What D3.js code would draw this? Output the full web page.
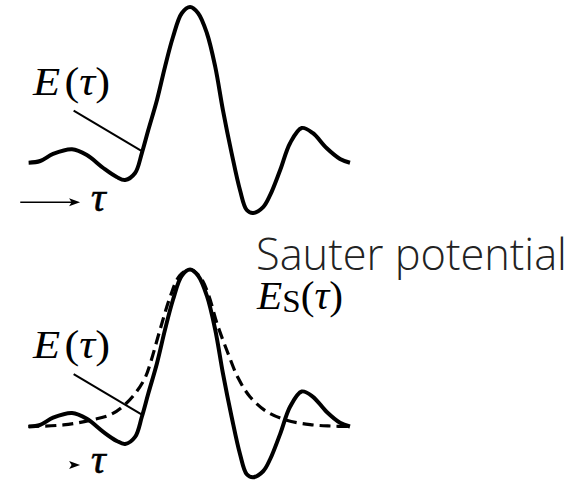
<!DOCTYPE html>
<html>
<head>
<meta charset="utf-8">
<script src="https://cdn.jsdelivr.net/npm/d3@7/dist/d3.min.js"></script>
<style>
  html, body { margin: 0; padding: 0; background: #fff; }
  svg { display: block; }
</style>
</head>
<body>
<svg id="chart" width="573" height="482"></svg>
<script>
// ---- data (normalized time 0..100, field normalized to peak = 1) ----
const pulseTau = [0.1, 3.7, 7.7, 13.6, 18.2, 23.3, 27.5, 30.1, 33.2, 35.3, 37.3, 40, 42.5, 45, 47.7, 50.3,
                  52.8, 55.5, 58.1, 60.5, 63.2, 65.8, 67.9, 69.9, 73, 75.2, 78.3, 81.4, 85, 88.4, 92.7, 96.9, 100];
const pulseE   = [0, 0.011, 0.056, 0.086, 0.049, -0.034, -0.092, -0.111, -0.066, 0.062, 0.21, 0.403, 0.617, 0.809, 0.96, 1.0,
                  0.96, 0.833, 0.617, 0.338, 0.062, -0.175, -0.304, -0.323, -0.285, -0.207, -0.047, 0.127, 0.223, 0.191, 0.094, 0.024, 0];
const sauterTau = [0, 10.9, 19.3, 25.5, 29.5, 33.2, 36.3, 37.9, 41, 44, 47, 50.3,
                   53.5, 56, 58.6, 62, 65.2, 68.9, 74.1, 80.3, 87.6, 94, 100];
const sauterE   = [0, 0.01, 0.04, 0.075, 0.13, 0.21, 0.31, 0.40, 0.62, 0.82, 0.96, 1,
                   0.95, 0.84, 0.66, 0.47, 0.31, 0.19, 0.095, 0.04, 0.012, 0.003, 0];
const pulseLabel = "E(τ)";
const sauterTitle = "Sauter potential";
const axisLabel = "τ";

// ---- layout ----
const svg = d3.select("#chart");
const x = d3.scaleLinear().domain([0, 100]).range([28.3, 350]);
const yTop = d3.scaleLinear().domain([0, 1]).range([162.7, 7]);
const yBot = d3.scaleLinear().domain([0, 1]).range([426.5, 269.5]);

const pulse = pulseTau.map((t, i) => ({ t, v: pulseE[i] }));
const sauter = sauterTau.map((t, i) => ({ t, v: sauterE[i] }));
const SERIF = "'Liberation Serif', 'Times New Roman', serif";

function lineFor(y) {
  return d3.line().x(d => x(d.t)).y(d => y(d.v)).curve(d3.curveCatmullRom.alpha(0.5));
}

function labelE(g, px, py) {
  const t = g.append("text").attr("x", px).attr("y", py)
    .attr("font-family", SERIF).attr("font-size", 41).attr("fill", "#000");
  t.append("tspan").attr("font-style", "italic").text(pulseLabel[0]);
  t.append("tspan").attr("dx", 4).text("(");
  t.append("tspan").attr("font-style", "italic").text(pulseLabel[2]);
  t.append("tspan").text(")");
  t.attr("textLength", 77).attr("lengthAdjust", "spacingAndGlyphs");
}

function tauArrow(g, y, x0, x1, v) {
  const yy = y(v);
  if (x(x1) - x(x0) > 12) {
    g.append("line").attr("x1", x(x0)).attr("x2", x(x1) - 8).attr("y1", yy).attr("y2", yy)
      .attr("stroke", "#000").attr("stroke-width", 1.6);
  }
  const tip = x(x1);
  g.append("path").attr("d", `M${tip},${yy} L${tip - 11},${yy - 4} L${tip - 8.5},${yy} L${tip - 11},${yy + 4} Z`)
    .attr("fill", "#000");
  g.append("text").attr("x", tip + 11).attr("y", yy + 8.5)
    .attr("font-family", SERIF).attr("font-style", "italic").attr("font-size", 41)
    .attr("stroke", "#000").attr("stroke-width", 0.6).text(axisLabel);
}

function leader(g, y) {
  g.append("line")
    .attr("x1", x(14.1)).attr("y1", y(0.334))
    .attr("x2", x(35.3)).attr("y2", y(0.075))
    .attr("stroke", "#000").attr("stroke-width", 2);
}

// top panel
const gTop = svg.append("g");
gTop.append("path").datum(pulse).attr("d", lineFor(yTop))
  .attr("fill", "none").attr("stroke", "#000").attr("stroke-width", 4).attr("stroke-linejoin", "round");
leader(gTop, yTop);
labelE(gTop, 33, 95);
tauArrow(gTop, yTop, -2.5, 16.1, -0.254);

// bottom panel
const gBot = svg.append("g");
gBot.append("path").datum(sauter).attr("d", lineFor(yBot))
  .attr("fill", "none").attr("stroke", "#000").attr("stroke-width", 3.2).attr("stroke-dasharray", "11,6");
gBot.append("path").datum(pulse).attr("d", lineFor(yBot))
  .attr("fill", "none").attr("stroke", "#000").attr("stroke-width", 4).attr("stroke-linejoin", "round");
leader(gBot, yBot);
labelE(gBot, 33, 358);
tauArrow(gBot, yBot, 13, 16.1, -0.245);

// Sauter labels
const title = svg.append("text").attr("x", 256).attr("y", 270)
  .attr("font-family", "'Segoe UI', 'Open Sans', 'Noto Sans', sans-serif")
  .attr("font-weight", 300).attr("font-size", 40).attr("fill", "#222").text(sauterTitle);
const w = title.node().getComputedTextLength();
title.attr("font-size", 40 * 311 / w);

const es = svg.append("text").attr("x", 257).attr("y", 309)
  .attr("font-family", SERIF).attr("font-size", 40).attr("fill", "#000");
es.append("tspan").attr("font-style", "italic").text("E");
es.append("tspan").attr("font-size", 32).attr("dy", 3).text("S");
es.append("tspan").attr("dy", -3).text("(");
es.append("tspan").attr("font-style", "italic").text("τ");
es.append("tspan").text(")");
es.attr("textLength", 86).attr("lengthAdjust", "spacingAndGlyphs");
</script>
</body>
</html>
